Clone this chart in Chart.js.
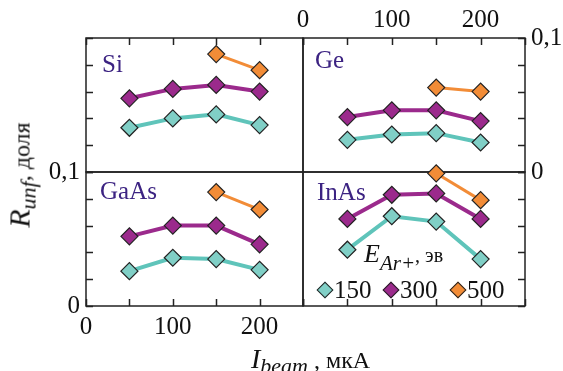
<!DOCTYPE html>
<html>
<head>
<meta charset="utf-8">
<script src="https://cdn.jsdelivr.net/npm/chart.js@4.4.0/dist/chart.umd.min.js"></script>
<style>
  html, body { margin: 0; padding: 0; background: #fff; }
  #wrap { position: relative; width: 563px; height: 371px; overflow: hidden; font-family: 'Liberation Serif', serif; color: #111; }
  #wrap canvas { position: absolute; left: 0; top: 0; }
  .t { position: absolute; white-space: nowrap; line-height: 1; }
  .panel { color: #3c2382; font-size: 25px; }
  .dia { position: absolute; width: 12px; height: 12px; border: 1.2px solid #222; transform: rotate(45deg); box-sizing: border-box; }
  .it { font-style: italic; }
</style>
</head>
<body>
<div id="wrap">
  <canvas id="cTL" width="563" height="371"></canvas>
  <canvas id="cTR" width="563" height="371"></canvas>
  <canvas id="cBL" width="563" height="371"></canvas>
  <canvas id="cBR" width="563" height="371"></canvas>

  <div class="t panel" style="left:102px; top:51px;">Si</div>
  <div class="t panel" style="left:315px; top:47px;">Ge</div>
  <div class="t panel" style="left:100px; top:178px;">GaAs</div>
  <div class="t panel" style="left:317px; top:179px;">InAs</div>

  <!-- y axis title -->
  <div class="t" style="left:22px; top:175px; transform: translate(-50%, -50%) rotate(-90deg); line-height:30px;">
    <span class="it" style="font-size:30px;">R</span><span class="it" style="font-size:22px; position:relative; top:6px;">unf</span><span style="font-size:24px;">, доля</span>
  </div>

  <!-- x axis title -->
  <div class="t" style="left:251px; top:345px; line-height:28px;">
    <span class="it" style="font-size:28px;">I</span><span class="it" style="font-size:22px; position:relative; top:5px;">beam</span><span style="font-size:24px;"> , мкА</span>
  </div>

  <!-- legend -->
  <div class="t" style="left:364px; top:241px; line-height:26px;">
    <span class="it" style="font-size:26px;">E</span><span class="it" style="font-size:21px; position:relative; top:8px;">Ar+</span><span style="font-size:20px;">, эв</span>
  </div>
  <div class="dia" style="left:319px; top:284px; background:#80cfc6;"></div>
  <div class="t" style="left:334px; top:277px; font-size:25px;">150</div>
  <div class="dia" style="left:385px; top:284px; background:#9b2a8c;"></div>
  <div class="t" style="left:400px; top:277px; font-size:25px;">300</div>
  <div class="dia" style="left:452px; top:284px; background:#f28c37;"></div>
  <div class="t" style="left:467px; top:277px; font-size:25px;">500</div>
</div>

<script>
// beam current, мкА
const currents = [50, 100, 150, 200];
const currents500 = [150, 200];

// R_unf for E = 150, 300, 500 эв
const si150 = [0.033, 0.040, 0.043, 0.035];
const si300 = [0.055, 0.062, 0.065, 0.060];
const si500 = [0.088, 0.076];

const ge150 = [0.024, 0.028, 0.029, 0.022];
const ge300 = [0.041, 0.046, 0.046, 0.038];
const ge500 = [0.063, 0.060];

const gaas150 = [0.026, 0.036, 0.035, 0.027];
const gaas300 = [0.052, 0.060, 0.060, 0.046];
const gaas500 = [0.085, 0.072];

const inas150 = [0.042, 0.067, 0.063, 0.035];
const inas300 = [0.065, 0.083, 0.084, 0.065];
const inas500 = [0.099, 0.079];

const xLabels = [0, 100, 200];
const yLabels = {0: '0', 0.1: '0,1'};

const W = 563, H = 371;
const tickFont = {family: 'Liberation Serif', size: 25};
const TICK = 7;

// frame + inward tick marks, placed from the scales
const framePlugin = {
  id: 'frame',
  beforeDatasetsDraw(chart) {
    const {ctx, chartArea: a, scales} = chart;
    ctx.save();
    ctx.strokeStyle = '#222';
    ctx.lineWidth = 1.5;
    ctx.strokeRect(a.left, a.top, a.right - a.left, a.bottom - a.top);
    ctx.beginPath();
    const sx = scales.x, sy = scales.y;
    const y0 = sx.position === 'top' ? a.top : a.bottom;
    const dy = sx.position === 'top' ? TICK : -TICK;
    sx.ticks.forEach(t => {
      const px = Math.round(sx.getPixelForValue(t.value)) + 0.5;
      ctx.moveTo(px, y0);
      ctx.lineTo(px, y0 + dy);
    });
    const x0 = sy.position === 'left' ? a.left : a.right;
    const dx = sy.position === 'left' ? TICK : -TICK;
    sy.ticks.forEach(t => {
      const py = Math.round(sy.getPixelForValue(t.value)) + 0.5;
      ctx.moveTo(x0, py);
      ctx.lineTo(x0 + dx, py);
    });
    ctx.stroke();
    ctx.restore();
  }
};

function pts(xs, ys) {
  return xs.map((x, i) => ({x: x, y: ys[i]}));
}

function series(xs, ys, line, fill, width) {
  return {
    data: pts(xs, ys),
    borderColor: line,
    borderWidth: width,
    pointBackgroundColor: fill,
    pointBorderColor: '#222',
    pointBorderWidth: 1.2,
    pointRadius: 8.5,
    pointStyle: 'rectRot',
    tension: 0,
    clip: false
  };
}

// box = [left, top, right, bottom] of the plot area
function makePanel(id, box, xPos, yPos, showX, showY, s150, s300, s500) {
  const xSize = xPos === 'top' ? 36 : 40;
  const ySize = yPos === 'left' ? 60 : 38;
  const pad = {
    left: box[0] - (yPos === 'left' ? ySize : 0),
    right: W - box[2] - (yPos === 'right' ? ySize : 0),
    top: box[1] - (xPos === 'top' ? xSize : 0),
    bottom: H - box[3] - (xPos === 'bottom' ? xSize : 0)
  };
  new Chart(document.getElementById(id), {
    type: 'line',
    data: {
      datasets: [
        series(currents500, s500, '#f28c37', '#f28c37', 3),
        series(currents, s300, '#9b2a8c', '#9b2a8c', 4),
        series(currents, s150, '#5fc4ba', '#80cfc6', 4)
      ]
    },
    options: {
      responsive: false,
      animation: false,
      devicePixelRatio: 1,
      layout: {autoPadding: false, padding: pad},
      plugins: {legend: {display: false}, tooltip: {enabled: false}},
      scales: {
        x: {
          type: 'linear', position: xPos, min: 0, max: 250,
          afterFit: s => { s.height = xSize; },
          border: {display: false},
          grid: {display: false, drawTicks: false, tickLength: 0},
          ticks: {
            stepSize: 50, autoSkip: false, maxRotation: 0,
            padding: xPos === 'bottom' ? 6 : 3,
            color: '#111', font: tickFont,
            callback: v => (showX && xLabels.includes(v)) ? String(v) : ''
          }
        },
        y: {
          position: yPos, min: 0, max: 0.1,
          afterFit: s => { s.width = ySize; },
          border: {display: false},
          grid: {display: false, drawTicks: false, tickLength: 0},
          ticks: {
            stepSize: 0.02, autoSkip: false,
            padding: 6,
            color: '#111', font: tickFont,
            callback: v => {
              if (!showY) return '';
              const k = Math.round(v * 100) / 100;
              return yLabels[k] !== undefined ? yLabels[k] : '';
            }
          }
        }
      }
    },
    plugins: [framePlugin]
  });
}

makePanel('cTL', [86, 38, 303, 172], 'top', 'left', false, false, si150, si300, si500);
makePanel('cTR', [303, 38, 525, 172], 'top', 'right', true, true, ge150, ge300, ge500);
makePanel('cBL', [86, 172, 303, 306], 'bottom', 'left', true, true, gaas150, gaas300, gaas500);
makePanel('cBR', [303, 172, 525, 306], 'bottom', 'right', false, false, inas150, inas300, inas500);
</script>
</body>
</html>
